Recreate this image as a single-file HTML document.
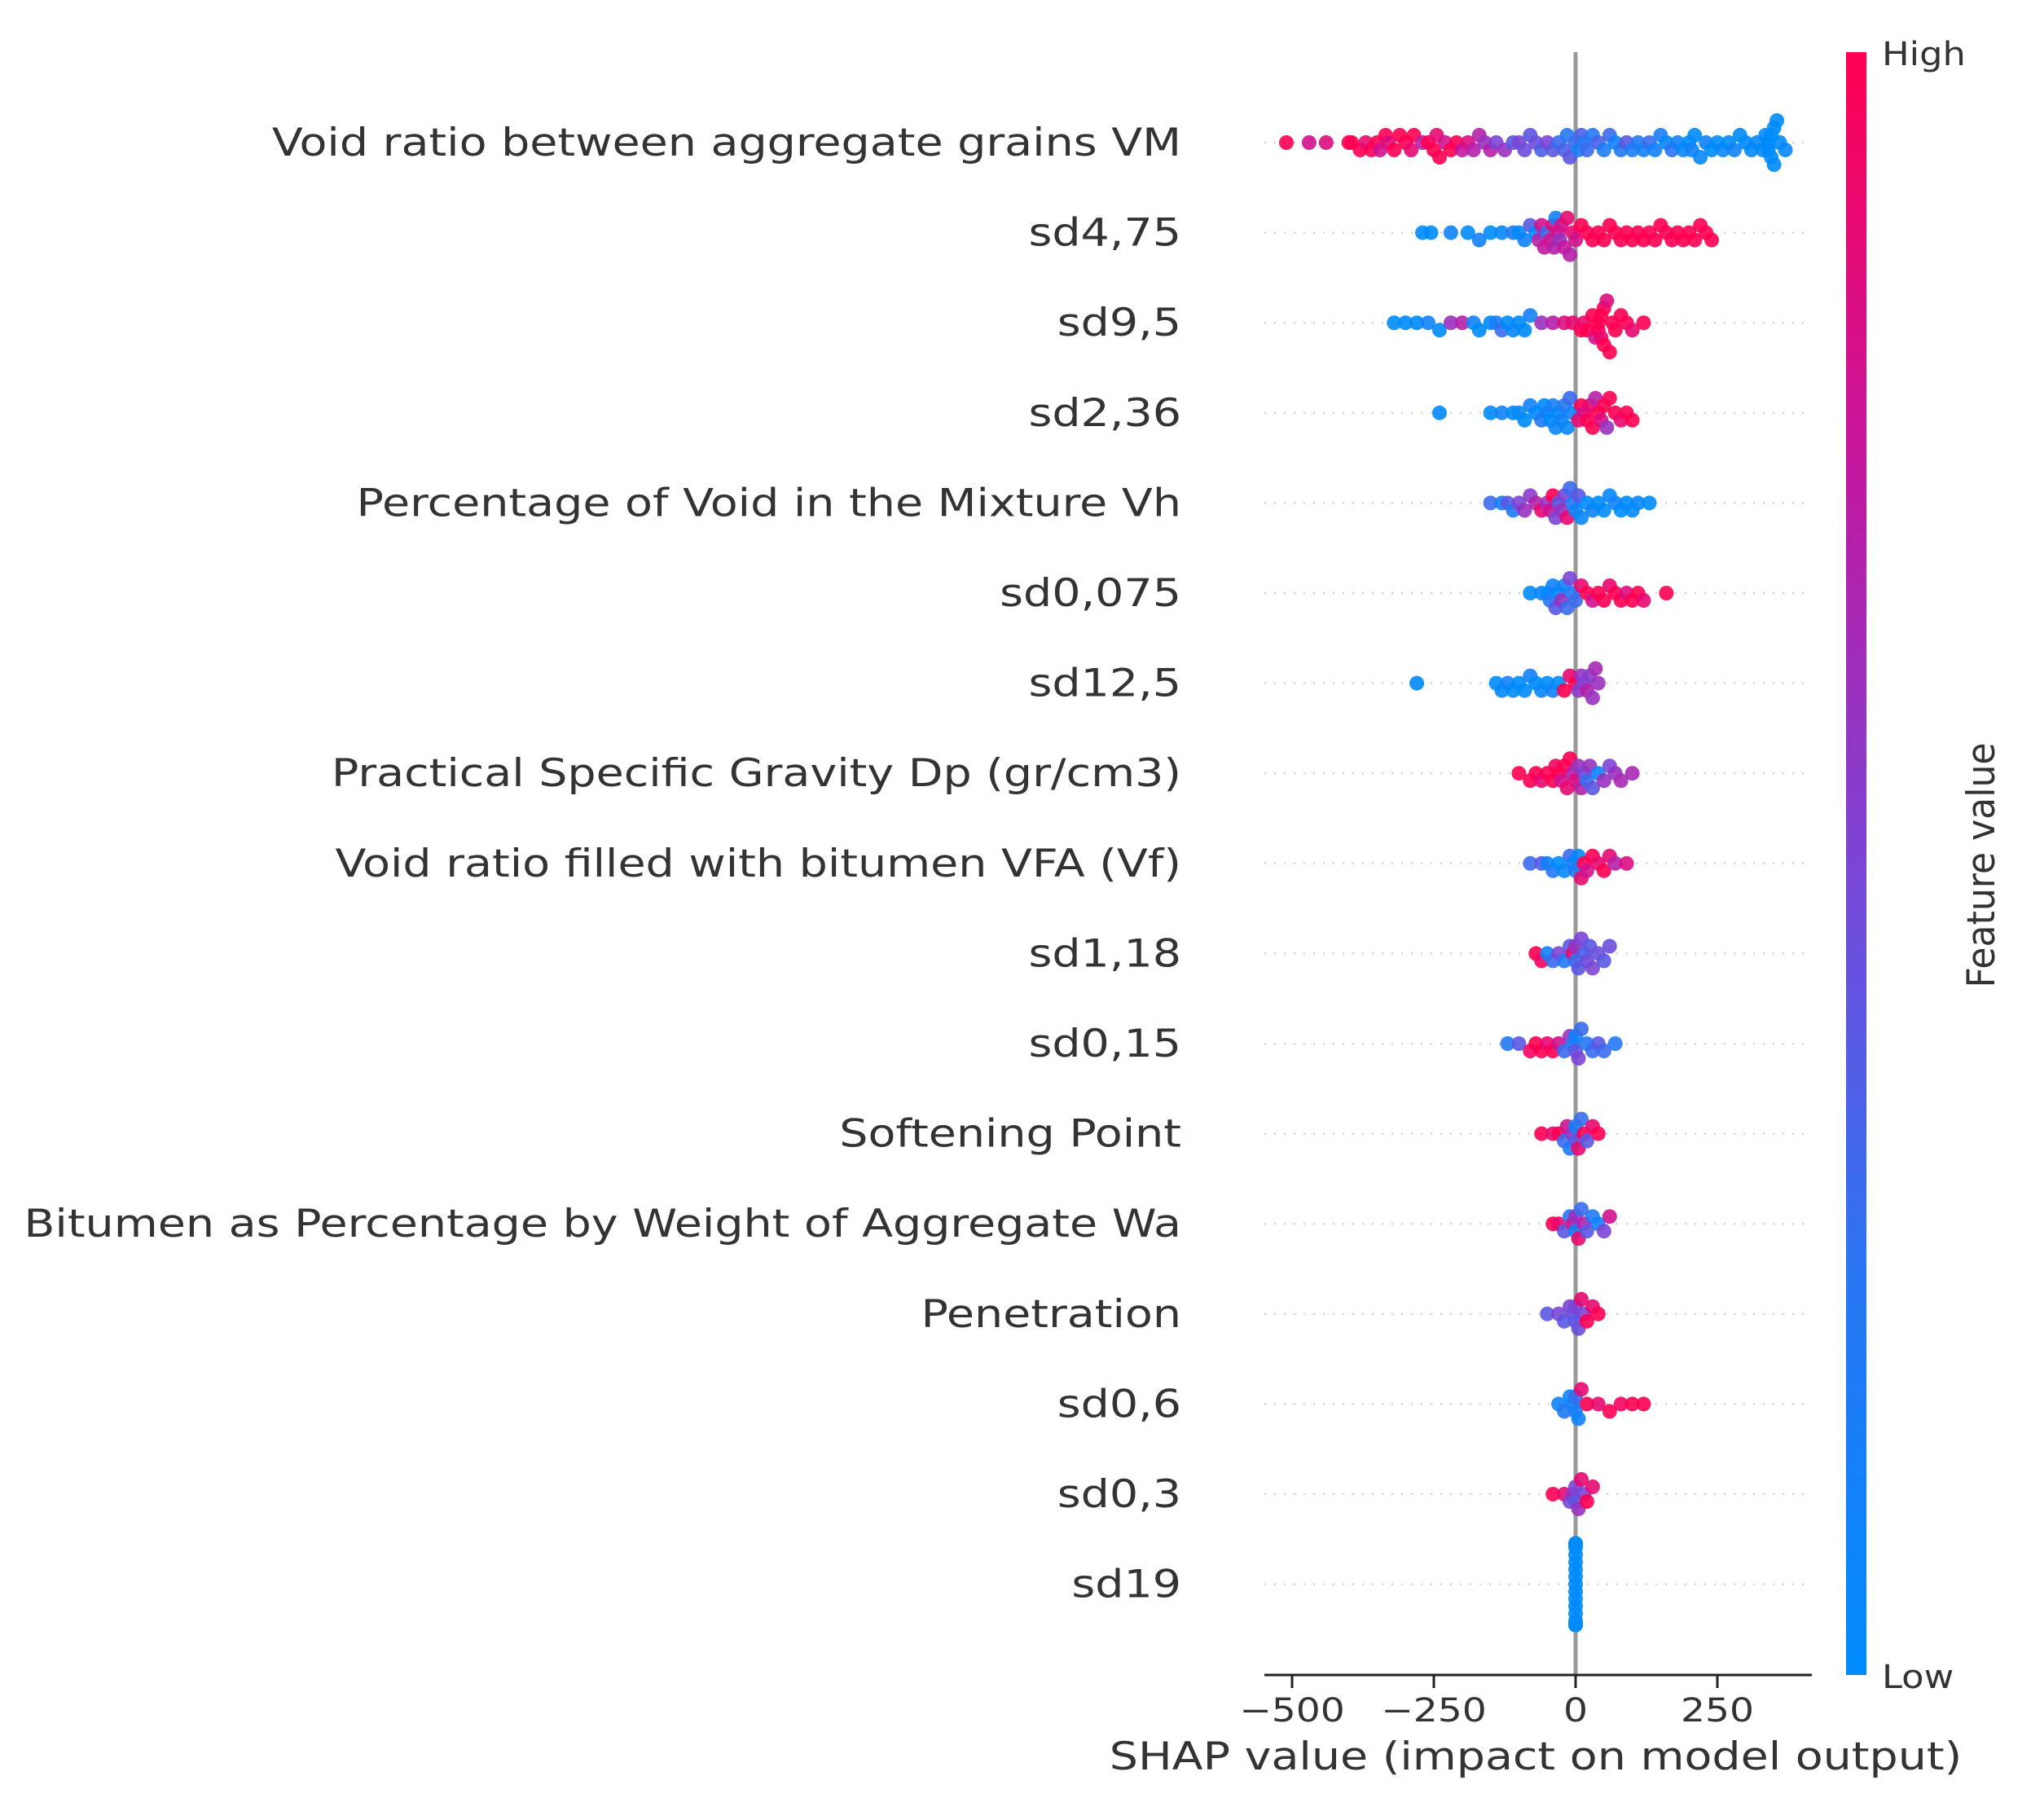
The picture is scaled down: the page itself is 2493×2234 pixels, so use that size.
<!DOCTYPE html>
<html><head><meta charset="utf-8"><style>
html,body{margin:0;padding:0;background:#fff;}
svg{display:block;}
text{font-family:"DejaVu Sans","Liberation Sans",sans-serif;fill:#333;}
</style></head><body>
<svg id="chart" width="2493" height="2234" viewBox="0 0 2493 2234" xmlns="http://www.w3.org/2000/svg">
<defs>
<linearGradient id="cb" x1="0" y1="1" x2="0" y2="0">
<stop offset="0" stop-color="#008bfb"/>
<stop offset="0.25" stop-color="#2a75f3"/>
<stop offset="0.5" stop-color="#7b45d6"/>
<stop offset="0.75" stop-color="#c4169e"/>
<stop offset="1" stop-color="#ff0052"/>
</linearGradient>
</defs>
<g id="grid"></g>
<line x1="1934" y1="64" x2="1934" y2="2056" stroke="#999" stroke-width="5"/>
<g id="dots"></g>
<g id="labels"></g>
<line x1="1552" y1="2056" x2="2224" y2="2056" stroke="#222" stroke-width="3"/>
<g id="xticks"></g>
<text x="0" y="0" font-size="47" text-anchor="middle" transform="translate(1885,2172) scale(1.18,1)">SHAP value (impact on model output)</text>
<rect x="2266" y="64" width="25" height="1992" fill="url(#cb)"/>
<text x="0" y="0" font-size="40" transform="translate(2310,80) scale(1.12,1)">High</text>
<text x="0" y="0" font-size="40" transform="translate(2310,2072) scale(1.12,1)">Low</text>
<text x="0" y="0" font-size="42" text-anchor="middle" transform="translate(2448,1062) rotate(-90) scale(1.05,1.12)">Feature value</text>
</svg>
<script>
const features=["Void ratio between aggregate grains VM","sd4,75","sd9,5","sd2,36","Percentage of Void in the Mixture Vh","sd0,075","sd12,5","Practical Specific Gravity Dp (gr/cm3)","Void ratio filled with bitumen VFA (Vf)","sd1,18","sd0,15","Softening Point","Bitumen as Percentage by Weight of Aggregate Wa","Penetration","sd0,6","sd0,3","sd19"];
const xTicks=[-500,-250,0,250];
const tickLabels=["\u2212500","\u2212250","0","250"];
const shap0=[-510,-470,-440,-400,-395,-380,-370,-360,-350,-345,-335,-330,-320,-310,-300,-290,-285,-270,-260,-250,-245,-240,-230,-220,-210,-200,-190,-180,-170,-160,-150,-140,-125,-110,-100,-90,-80,-70,-60,-50,-40,-30,-20,-15,-10,0,5,10,15,20,30,40,50,60,70,80,90,100,110,120,130,140,150,160,170,180,190,200,205,210,220,230,240,250,260,270,280,290,300,310,320,330,335,340,340,345,345,350,350,355,360,370];
const feat0=[1,0.8,0.85,1,1,1,0.9,1,1,0.8,1,0.85,1,1,1,0.9,1,0.7,1,1,0.9,1,0.8,1,1,0.75,0.85,0.7,0.7,0.6,0.7,0.5,0.6,0.4,0.5,0.45,0.4,0.45,0.35,0.5,0.4,0.3,0.35,0.2,0.4,0.3,0.15,0.35,0.25,0.3,0.2,0.35,0.15,0.3,0.1,0.2,0.4,0.15,0.2,0.1,0.3,0.1,0.15,0.05,0.25,0.1,0.05,0,0.1,0,0.05,0.1,0,0,0.05,0,0.1,0,0,0,0.05,0,0,0,0,0,0,0,0,0,0,0.05];
const shap1=[-270,-255,-220,-190,-170,-150,-130,-110,-100,-90,-80,-70,-65,-60,-55,-50,-45,-40,-38,-35,-30,-28,-25,-20,-15,-10,-5,0,10,20,30,40,50,60,70,80,90,100,110,120,130,140,150,160,170,180,190,200,210,220,230,240];
const feat1=[0,0,0.1,0,0.1,0,0.05,0.2,0,0.1,0.4,0,0.7,0.8,0.75,0.3,0.8,0.85,0.7,0.1,0.8,0.6,0.8,0.75,0.9,0.7,0.9,0.8,1,1,1,1,1,1,1,1,1,1,1,1,1,1,1,1,1,1,1,1,1,1,1,1];
const shap2=[-320,-300,-280,-260,-240,-220,-200,-180,-170,-150,-140,-130,-120,-110,-100,-90,-80,-60,-40,-20,-5,10,15,20,30,35,40,40,45,45,50,50,55,60,65,70,80,90,100,120];
const feat2=[0,0,0,0.1,0,0.6,0.7,0.1,0,0,0.15,0.3,0,0.05,0,0,0.1,0.6,0.7,0.85,0.9,1,0.9,1,1,0.8,1,1,1,0.9,1,1,0.85,1,1,1,1,1,0.9,1];
const shap3=[-240,-150,-130,-110,-100,-90,-80,-70,-60,-55,-50,-45,-40,-35,-30,-25,-20,-15,-10,-5,5,10,15,20,25,30,35,40,45,50,55,60,70,80,90,100];
const feat3=[0,0,0.1,0,0.05,0,0.1,0,0.2,0,0.1,0,0.15,0.05,0,0.1,0.2,0.05,0.3,0.1,0.9,1,0.8,1,0.9,1,0.7,1,0.85,1,0.6,1,1,0.9,1,1];
const shap4=[-150,-130,-120,-110,-100,-90,-80,-70,-60,-50,-45,-40,-35,-30,-25,-20,-15,-10,-5,0,5,10,20,30,40,50,60,70,80,90,100,110,130];
const feat4=[0.3,0.1,0.4,0.2,0.5,0.6,0.55,0.7,0.9,0.6,0.8,1,0.5,0.4,0.6,0.5,0.9,0.3,0.2,0.1,0.4,0.05,0,0.1,0,0,0.05,0.1,0,0,0,0.05,0];
const shap5=[-80,-60,-50,-45,-40,-35,-30,-25,-20,-15,-10,-5,0,10,20,30,40,50,60,70,80,90,100,110,120,160];
const feat5=[0,0.1,0,0.2,0.1,0.4,0,0.6,0.1,0.3,0.5,0.2,0.3,0.9,1,0.8,1,1,0.9,1,1,0.85,1,1,0.9,1];
const shap6=[-280,-140,-130,-120,-110,-100,-90,-80,-70,-60,-50,-40,-30,-20,-10,0,5,10,15,20,25,30,35,40];
const feat6=[0,0,0,0.1,0,0,0,0.1,0,0.05,0,0.1,0,1,0.9,1,0.55,0.6,0.5,0.7,0.55,0.6,0.65,0.6];
const shap7=[-100,-80,-70,-60,-50,-40,-35,-30,-25,-20,-15,-10,-5,0,5,10,15,20,25,30,40,50,60,70,80,100];
const feat7=[1,1,1,0.9,1,1,0.95,1,0.8,1,0.9,1,0.7,0.85,0.6,0.7,0.5,0.3,0.6,0.4,0.1,0.6,0.5,0.6,0.65,0.65];
const shap8=[-80,-60,-50,-40,-30,-20,-10,-5,0,5,10,15,20,30,40,50,60,70,90];
const feat8=[0.3,0.4,0.1,0.2,0,0.05,0.3,0.1,0.2,0.05,0.9,1,0.8,1,0.9,1,0.9,0.7,0.85];
const shap9=[-70,-60,-50,-40,-30,-20,-10,-5,0,0,5,10,15,20,25,30,40,50,60];
const feat9=[1,0.95,0.1,0.3,0.5,0.2,0.4,0.9,0.3,0.6,0.4,0.5,0.35,0.45,0.4,0.5,0.45,0.4,0.45];
const shap10=[-120,-100,-80,-70,-60,-50,-40,-30,-20,-10,-5,0,0,5,10,20,30,40,50,70];
const feat10=[0.2,0.4,0.95,1,1,0.9,1,0.8,0.3,0.6,0.2,0.4,0.1,0.5,0.3,0.2,0.3,0.4,0.3,0.2];
const shap11=[-60,-40,-30,-20,-15,-10,-5,0,0,5,10,15,20,30,40];
const feat11=[1,0.9,1,0.3,0.8,0.2,0.6,0.4,0.1,0.9,0.3,1,0.4,0.9,1];
const shap12=[-40,-30,-20,-10,-5,0,0,5,10,15,20,30,40,50,60];
const feat12=[1,0.9,0.4,0.2,0.8,0.1,0.6,0.9,0.3,0.7,0.4,0.2,0.1,0.5,0.8];
const shap13=[-50,-30,-20,-10,-5,0,0,5,10,15,20,30,40];
const feat13=[0.4,0.5,0.4,0.5,0.45,0.4,0.5,0.45,0.9,0.5,1,0.9,1];
const shap14=[-30,-20,-10,-5,0,0,5,10,20,40,60,80,100,120];
const feat14=[0.1,0.2,0.05,0.1,0.15,0.3,0.1,0.9,1,0.9,1,0.95,1,1];
const shap15=[-40,-20,-10,-5,0,0,5,10,15,20,30];
const feat15=[1,0.9,0.5,0.6,0.4,0.5,0.6,0.9,0.5,1,0.9];
const shap16=[0,0,0,0,0,0,0,0,0,0,0,0,0,0,0,0,0];
const feat16=[0,0,0,0,0,0,0,0,0,0,0,0,0,0,0,0,0];
const shapRows=[shap0,shap1,shap2,shap3,shap4,shap5,shap6,shap7,shap8,shap9,shap10,shap11,shap12,shap13,shap14,shap15,shap16];
const featRows=[feat0,feat1,feat2,feat3,feat4,feat5,feat6,feat7,feat8,feat9,feat10,feat11,feat12,feat13,feat14,feat15,feat16];

const NS="http://www.w3.org/2000/svg";
const X0=1934, PXU=174/250, Y0=175, ROWH=110.6;
function xScale(v){return X0+v*PXU;}
function yRow(i){return Y0+i*ROWH;}
function lerp(a,b,t){return a+(b-a)*t;}
const stops=[[0,[0,139,251]],[0.25,[42,117,243]],[0.5,[123,69,214]],[0.75,[196,22,158]],[1,[255,0,82]]];
function color(t){for(let k=1;k<stops.length;k++){if(t<=stops[k][0]){const a=stops[k-1],b=stops[k];const u=(t-a[0])/(b[0]-a[0]);return "rgb("+[0,1,2].map(j=>Math.round(lerp(a[1][j],b[1][j],u))).join(",")+")";}}return "rgb(255,0,82)";}
const grid=document.getElementById("grid"),dots=document.getElementById("dots"),labels=document.getElementById("labels"),xt=document.getElementById("xticks");
features.forEach((f,i)=>{
  const y=yRow(i);
  const g=document.createElementNS(NS,"line");
  
  
  g.setAttribute("x1",1552);g.setAttribute("x2",2224);g.setAttribute("y1",y);g.setAttribute("y2",y);
  g.setAttribute("stroke","#ccc");g.setAttribute("stroke-width","2");g.setAttribute("stroke-dasharray","2 10");
  grid.appendChild(g);
  const t=document.createElementNS(NS,"text");
  
  
  t.setAttribute("x",0);t.setAttribute("y",0);t.setAttribute("text-anchor","end");t.setAttribute("font-size","47");
  t.setAttribute("transform","translate(1450,"+(y+16)+") scale(1.18,1)");
  t.textContent=f;labels.appendChild(t);
  const vals=shapRows[i],fv=featRows[i];
  const bins={};
  vals.forEach((v,k)=>{
    const px=xScale(v);const b=Math.round(px/16);
    const n=bins[b]||0;bins[b]=n+1;
    const off=n===0?0:(n%2?1:-1)*Math.ceil(n/2)*9;
    const c=document.createElementNS(NS,"circle");
    
    
    c.setAttribute("cx",px.toFixed(1));c.setAttribute("cy",(y+Math.max(-50,Math.min(50,off))).toFixed(1));c.setAttribute("r","9");
    c.setAttribute("fill",color(fv[k]));c.setAttribute("fill-opacity","0.9");
    dots.appendChild(c);
  });
});
xTicks.forEach((v,k)=>{
  const x=xScale(v);
  const l=document.createElementNS(NS,"line");
  
  
  l.setAttribute("x1",x);l.setAttribute("x2",x);l.setAttribute("y1",2056);l.setAttribute("y2",2072);l.setAttribute("stroke","#222");l.setAttribute("stroke-width","3");
  xt.appendChild(l);
  const t=document.createElementNS(NS,"text");
  
  
  t.setAttribute("x",0);t.setAttribute("y",0);t.setAttribute("text-anchor","middle");t.setAttribute("font-size","40");
  t.setAttribute("transform","translate("+x+",2113) scale(1.18,1)");
  t.textContent=tickLabels[k];xt.appendChild(t);
});
</script>
</body></html>
